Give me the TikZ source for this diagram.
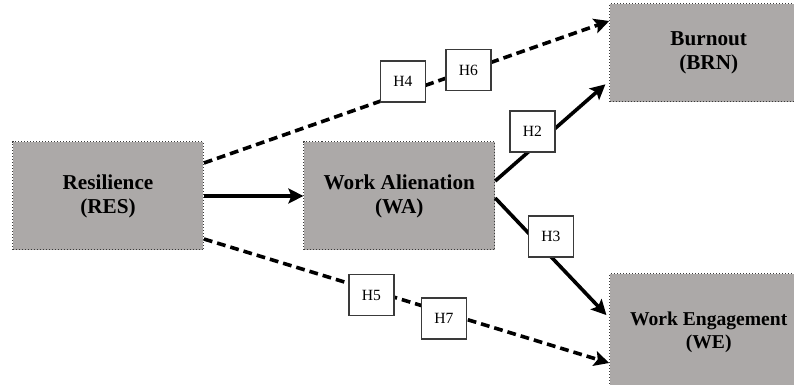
\documentclass[tikz,border=0pt]{standalone}
\usepackage{fontspec}
\setmainfont{Liberation Serif}
\usepackage{xcolor}
\usepackage{tikz}
\usetikzlibrary{arrows.meta,positioning}
\definecolor{boxgray}{HTML}{ACA9A8}
\definecolor{edgegray}{HTML}{3A3A3A}
\definecolor{ink}{HTML}{000000}
\tikzset{
  construct/.style={draw=edgegray,densely dotted,line width=0.5pt,fill=boxgray,
                    inner sep=2pt,align=center,font=\fontsize{10.6}{12}\selectfont\bfseries,
                    minimum width=95.4pt,minimum height=54pt},
  hyp/.style      ={draw=edgegray,line width=0.6pt,fill=white,inner sep=1pt,
                    minimum width=22.5pt,minimum height=20.5pt,
                    font=\fontsize{7.8}{9}\selectfont},
  flow/.style     ={-{Stealth[length=7.5pt,width=7.5pt,inset=1.5pt]},line width=1.8pt,draw=ink},
  dflow/.style    ={flow,dash pattern=on 4.4pt off 2.5pt}
}

\begin{document}
\begin{tikzpicture}[x=0.5pt,y=-0.5pt,node distance=49.75pt]
    \useasboundingbox (0,0) rectangle (794,385);
    \node[construct] (res) at (108,196) {Resilience\\(RES)};
    \node[construct,right=of res] (wa) {Work Alienation\\(WA)};
    \node[construct,above right=19.5pt and 57pt of wa,minimum width=99pt,minimum height=49pt] (brn)
      {Burnout\\(BRN)};
    \node[construct,below right=11.5pt and 57pt of wa,minimum width=99pt,minimum height=58pt,
          font=\fontsize{9.8}{11.5}\selectfont\bfseries] (we)
      {Work Engagement\\(WE)};

    \draw[flow,line width=2.1pt] (res.east) -- (wa.west);
    \draw[flow,shorten >=2.5pt] ([yshift=7.5pt]wa.east) -- ([yshift=-14pt]brn.west);
    \draw[flow,shorten >=2pt] ([yshift=-1pt]wa.east) -- ([yshift=7pt]we.west);
    \draw[dflow] ([yshift=16.5pt]res.east) -- ([yshift=16pt]brn.west);
    \draw[dflow] ([yshift=-21.5pt]res.east) -- ([yshift=-15.5pt]we.west);

    \node[hyp] (h4) at (403,81.5) {H4};
    \node[hyp] (h6) at (468.5,70) {H6};
    \node[hyp] (h2) at (532.5,131.5) {H2};
    \node[hyp] (h3) at (551,236.5) {H3};
    \node[hyp] (h5) at (371.5,295) {H5};
    \node[hyp] (h7) at (444,318.5) {H7};
  \end{tikzpicture}
\end{document}
